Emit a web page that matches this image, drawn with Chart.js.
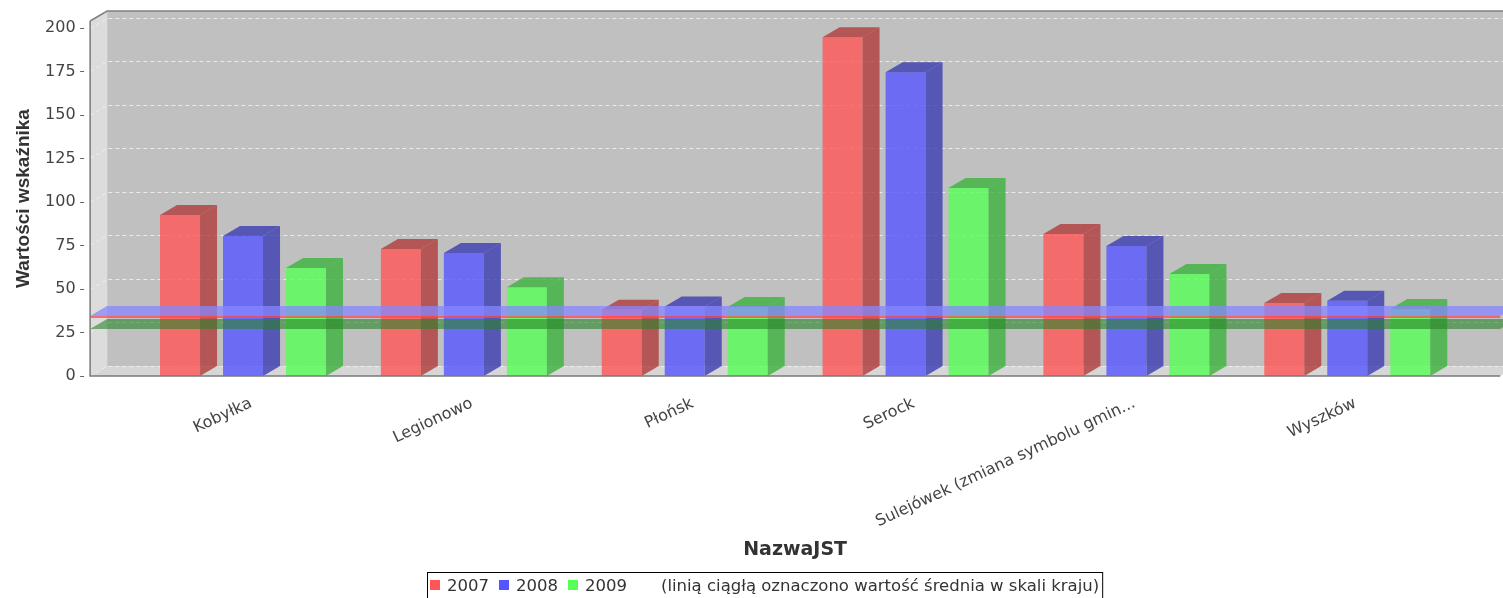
<!DOCTYPE html>
<html lang="pl">
<head>
<meta charset="UTF-8" />
<title>Wartości wskaźnika</title>
<script src="https://cdn.jsdelivr.net/npm/chart.js"></script>
<style>
  html, body { margin: 0; padding: 0; background: #fff; }
  #wykres { display: block; }
</style>
</head>
<body>
<canvas id="wykres" width="1503" height="598"></canvas>
<script>
  // dane
  const kategorie = ['Kobyłka', 'Legionowo', 'Płońsk', 'Serock', 'Sulejówek (zmiana symbolu gmin...', 'Wyszków'];
  const lata = ['2007', '2008', '2009'];
  const wartosci2007 = [92.5, 73, 38, 194.6, 81.6, 42];
  const wartosci2008 = [80.5, 70.7, 40, 174.5, 74.7, 43.3];
  const wartosci2009 = [62, 51, 39.7, 108, 58.6, 38.5];
  // srednia krajowa (2007, 2008, 2009)
  const srednie = [33.9, 34.5, 27];
  const osY = { max: 204, krok: 25 };
  const opisLegendy = '(linią ciągłą oznaczono wartość średnia w skali kraju)';

  const DX = 17, DY = 10;        // glebokosc 3D
  const MARGINES = 42.5;         // ramka wykresu wychodzi poza pasmo kategorii

  const przod = ['rgba(255,85,85,0.8)', 'rgba(85,85,255,0.8)', 'rgba(85,255,85,0.8)'];
  const bok = ['rgba(178,59,59,0.8)', 'rgba(59,59,178,0.8)', 'rgba(59,178,59,0.8)'];
  const legendaKolory = ['#ff5555', '#5555ff', '#55ff55'];
  const pasma = [null, 'rgba(135,135,255,0.75)', 'rgba(40,130,40,0.6)'];

  function wielokat(ctx, pkt, kolor) {
    ctx.beginPath();
    ctx.moveTo(pkt[0][0], pkt[0][1]);
    for (let i = 1; i < pkt.length; i++) ctx.lineTo(pkt[i][0], pkt[i][1]);
    ctx.closePath();
    ctx.fillStyle = kolor;
    ctx.fill();
  }

  const tlo3d = {
    id: 'tlo3d',
    beforeDatasetsDraw(chart) {
      const { ctx, chartArea: a, scales: { y } } = chart;
      const l = a.left - MARGINES, r = a.right + MARGINES;
      ctx.save();
      // tylna sciana
      ctx.fillStyle = '#c0c0c0';
      ctx.fillRect(l + DX, a.top - DY, r - l, a.bottom - a.top);
      // lewa sciana i podloga
      wielokat(ctx, [[l, a.top], [l + DX, a.top - DY], [l + DX, a.bottom - DY], [l, a.bottom]], '#dcdcdc');
      wielokat(ctx, [[l, a.bottom], [l + DX, a.bottom - DY], [r + DX, a.bottom - DY], [r, a.bottom]], '#d6d6d6');
      // linie siatki
      ctx.setLineDash([4, 3]);
      ctx.lineWidth = 1;
      ctx.strokeStyle = 'rgba(240,240,240,0.9)';
      y.ticks.forEach(t => {
        const py = Math.round(y.getPixelForValue(t.value)) + 0.5;
        ctx.beginPath();
        ctx.moveTo(l, py);
        ctx.lineTo(l + DX, py - DY);
        ctx.lineTo(r + DX, py - DY);
        ctx.stroke();
      });
      ctx.setLineDash([]);
      // gorna krawedz
      ctx.strokeStyle = '#808080';
      ctx.lineWidth = 1.5;
      ctx.beginPath();
      ctx.moveTo(l, a.top);
      ctx.lineTo(l + DX, a.top - DY);
      ctx.lineTo(r + DX, a.top - DY);
      ctx.stroke();
      ctx.restore();
    },
    afterDatasetsDraw(chart) {
      const { ctx, chartArea: a, scales: { y } } = chart;
      const l = a.left - MARGINES, r = a.right + MARGINES;
      ctx.save();
      // boki i gory slupkow
      chart.data.datasets.forEach((ds, i) => {
        chart.getDatasetMeta(i).data.forEach(bar => {
          const { x, y: top, base, width } = bar.getProps(['x', 'y', 'base', 'width'], true);
          const x0 = x - width / 2, x1 = x + width / 2;
          wielokat(ctx, [[x1, top], [x1 + DX, top - DY], [x1 + DX, base - DY], [x1, base]], bok[i]);
          wielokat(ctx, [[x0, top], [x0 + DX, top - DY], [x1 + DX, top - DY], [x1, top]], bok[i]);
        });
      });
      // srednie krajowe
      srednie.forEach((v, i) => {
        const py = y.getPixelForValue(v);
        if (pasma[i]) {
          wielokat(ctx, [[l, py], [l + DX, py - DY], [r + DX, py - DY], [r, py]], pasma[i]);
        } else {
          ctx.strokeStyle = '#ff4a4a';
          ctx.lineWidth = 1.5;
          ctx.beginPath();
          ctx.moveTo(l, py);
          ctx.lineTo(r, py);
          ctx.stroke();
        }
      });
      // przednie krawedzie ramki
      ctx.strokeStyle = '#7a7a7a';
      ctx.lineWidth = 1.5;
      ctx.beginPath();
      ctx.moveTo(l, a.top);
      ctx.lineTo(l, a.bottom);
      ctx.lineTo(r, a.bottom);
      ctx.stroke();
      // kreski podzialki
      ctx.lineWidth = 1;
      ctx.strokeStyle = '#666';
      y.ticks.forEach(t => {
        const py = Math.round(y.getPixelForValue(t.value)) + 0.5;
        ctx.beginPath();
        ctx.moveTo(l - 10, py);
        ctx.lineTo(l - 6, py);
        ctx.stroke();
      });
      ctx.restore();
    },
    afterDraw(chart) {
      const ctx = chart.ctx;
      ctx.save();
      ctx.font = '16.5px "DejaVu Sans"';
      ctx.textBaseline = 'alphabetic';
      const lewo = 427, gora = 572, linia = 591;
      let x = lewo + 3;
      chart.data.datasets.forEach((ds, i) => {
        ctx.fillStyle = legendaKolory[i];
        ctx.fillRect(x, 580, 10, 10);
        x += 17;
        ctx.fillStyle = '#333';
        ctx.fillText(ds.label, x, linia);
        x += ctx.measureText(ds.label).width + 10;
      });
      x += 24;
      ctx.fillText(opisLegendy, x, linia);
      x += ctx.measureText(opisLegendy).width + 3;
      ctx.strokeStyle = '#000';
      ctx.lineWidth = 1;
      ctx.strokeRect(lewo + 0.5, gora + 0.5, x - lewo, 40);
      ctx.restore();
    }
  };

  const wykres = new Chart(document.getElementById('wykres'), {
    type: 'bar',
    data: {
      labels: kategorie,
      datasets: [
        { label: lata[0], data: wartosci2007, backgroundColor: przod[0] },
        { label: lata[1], data: wartosci2008, backgroundColor: przod[1] },
        { label: lata[2], data: wartosci2009, backgroundColor: przod[2] }
      ]
    },
    options: {
      responsive: false,
      animation: false,
      datasets: { bar: { categoryPercentage: 0.8557, barPercentage: 0.635 } },
      layout: { padding: { left: 0, right: 45.3, top: 21, bottom: 36 } },
      plugins: { legend: { display: false }, tooltip: { enabled: false } },
      scales: {
        x: {
          grid: { display: false, drawTicks: false },
          border: { display: false },
          ticks: {
            autoSkip: false, minRotation: 25, maxRotation: 25,
            padding: 18, labelOffset: 8, color: '#444',
            font: { family: 'DejaVu Sans', size: 16 }
          },
          title: {
            display: true, text: 'NazwaJST', color: '#333',
            font: { family: 'DejaVu Sans', size: 19, weight: 'bold' },
            padding: { top: 4, bottom: 1 }
          },
          afterFit(s) { s.height = 186; }
        },
        y: {
          min: 0, max: osY.max,
          // kreski rysuje wtyczka, tu tylko odsuwamy etykiety od obszaru slupkow
          grid: { display: false, drawTicks: true, tickLength: 54 },
          border: { display: false },
          ticks: {
            stepSize: osY.krok, includeBounds: false, padding: 3, color: '#444',
            font: { family: 'DejaVu Sans', size: 16 }
          },
          title: {
            display: true, text: 'Wartości wskaźnika', color: '#333',
            font: { family: 'Liberation Sans', size: 19, weight: 'bold' },
            padding: { top: 12, bottom: 0 }
          },
          afterFit(s) { s.width = 132.6; }
        }
      }
    },
    plugins: [tlo3d]
  });
</script>
</body>
</html>
